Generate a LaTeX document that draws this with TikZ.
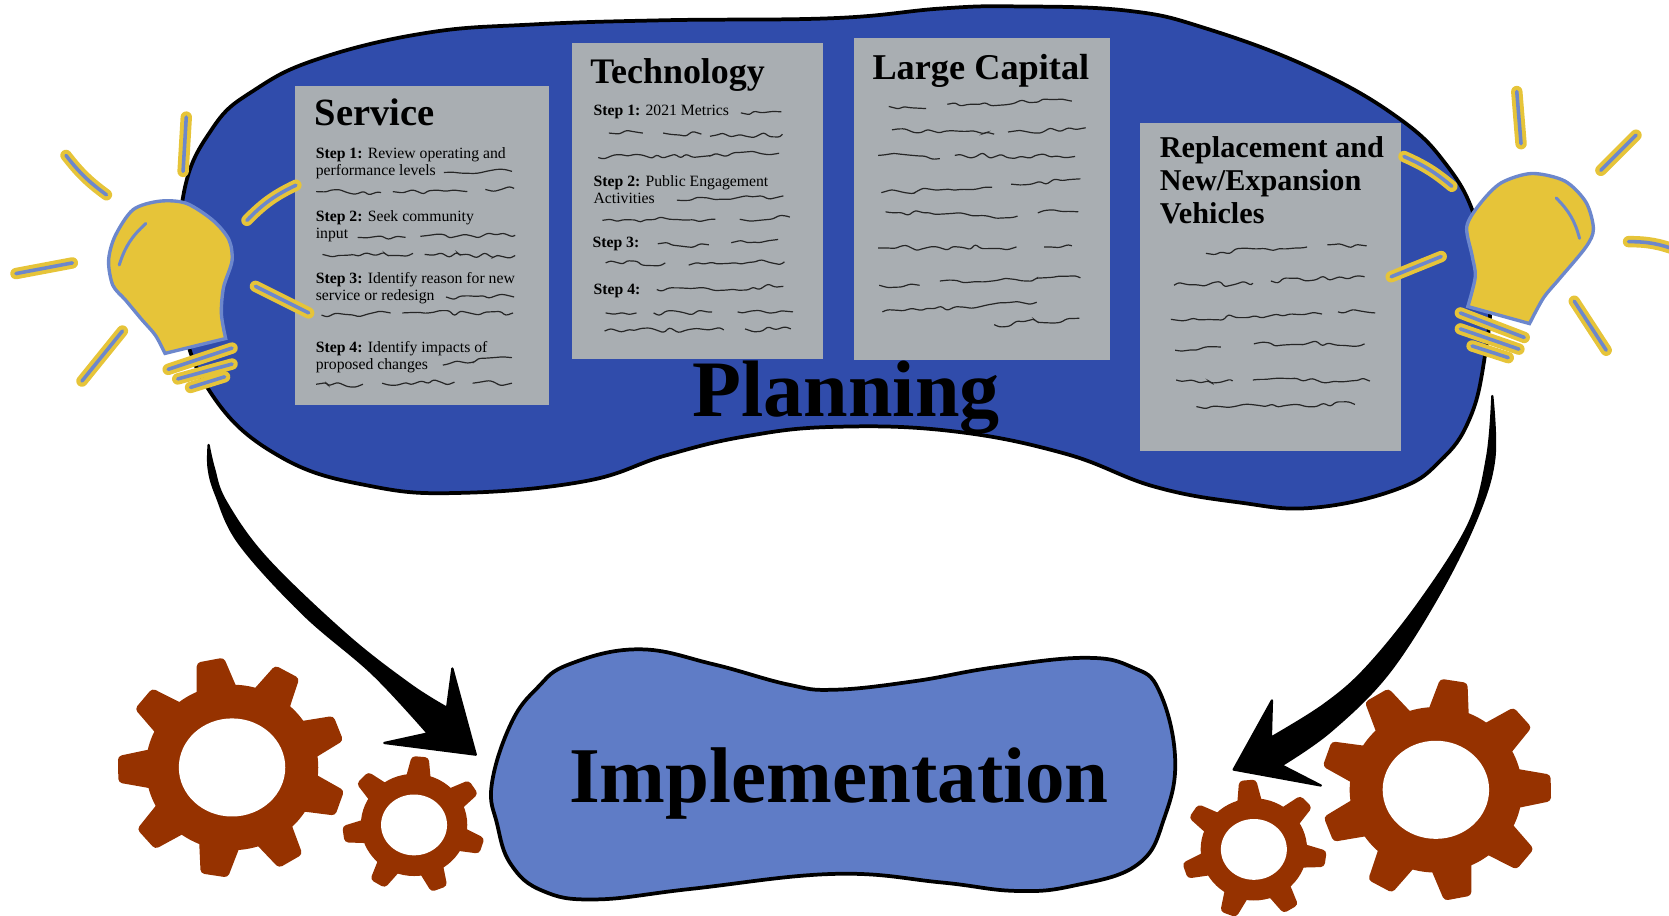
\documentclass[tikz,border=0pt]{standalone}
\usepackage{fontspec}
\setmainfont{Liberation Serif}
\usetikzlibrary{decorations.pathmorphing}

\definecolor{planblue}{HTML}{304CAB}
\definecolor{implblue}{HTML}{5F7CC6}
\definecolor{sheetgray}{HTML}{A9AEB2}
\definecolor{bulbyellow}{HTML}{E6C439}
\definecolor{bulbblue}{HTML}{6C87CC}
\definecolor{cogred}{HTML}{963200}

\tikzset{
  blob/.style={draw=black, line width=1pt},
  sheet/.style={fill=sheetgray, inner sep=0pt, anchor=north west},
  heading/.style={inner sep=0pt, anchor=base west, font=\bfseries\fontsize{#1}{#1}\selectfont},
  steptext/.style={inner sep=0pt, anchor=north west, align=left, font=\fontsize{4.2}{4.55}\selectfont},
  squiggle/.style={draw=black!85, line width=.32pt, rounded corners=.6pt, decorate,
    decoration={random steps, segment length=2pt, amplitude=.8pt}},
  ray/.style={draw=bulbyellow, double=bulbblue, double distance=.95pt, line width=1.05pt, line cap=round},
  bulb/.style={fill=bulbyellow, draw=bulbblue, line width=.9pt},
  hilite/.style={draw=bulbblue, line width=.8pt, line cap=round},
  pointer/.style={fill=black, draw=black, line width=.6pt, line join=round}
}

\newcommand{\cogwheel}[6]{
  \begin{scope}[shift={#1}, yscale=.96]
    \fill[cogred] (0,0) circle[radius=#3];
    \foreach \i in {1,...,#2}{
      \begin{scope}[rotate=#6+\i*360/#2]
        \fill[cogred, rounded corners=1pt] (#3-6,-.24*#3) -- (#4,-.16*#3) -- (#4,.16*#3) -- (#3-6,.24*#3) -- cycle;
      \end{scope}
    }
    \fill[white] (0,0) circle[x radius=#5, y radius=.96*#5];
  \end{scope}
}

\begin{document}
\begin{tikzpicture}[x=.01cm, y=-.01cm]
  \useasboundingbox (0,0) rectangle (1568,860);

  % Blobs
  \path[blob, fill=planblue] plot[smooth cycle, tension=.7] coordinates {
    (172,185) (200,120) (240,84) (300,55) (400,31) (500,23) (625,19) (784,17) (884,8) (954,6)
    (1059,10) (1134,27) (1234,65) (1314,111) (1359,155) (1386,205) (1400,270) (1394,341) (1380,395) (1354,432)
    (1314,459) (1234,477) (1164,472) (1084,457) (1000,426) (894,405) (784,401)
    (700,410) (625,428) (550,452) (435,463) (350,457) (265,430) (200,372) (170,290)};
  \path[blob, fill=implblue] plot[smooth cycle, tension=.7] coordinates {
    (462,737) (480,680) (505,646) (535,624) (600,610) (670,624) (740,643) (784,648) (859,640)
    (934,627) (1019,618) (1064,627) (1089,649) (1104,712) (1094,768) (1069,812) (1009,832) (954,837)
    (884,829) (784,821) (650,835) (560,845) (510,837) (480,812) (467,774)};

  % Sheets
  \node (service) [sheet, minimum width=2.39cm, minimum height=3cm] at (276,80) {};
  \node (technology) [sheet, minimum width=2.35cm, minimum height=2.96cm] at (537,40) {};
  \node (capital) [sheet, minimum width=2.4cm, minimum height=3.02cm] at (802,35) {};
  \node (vehicles) [sheet, minimum width=2.45cm, minimum height=3.08cm] at (1070,115) {};

  % Headings
  \node (serviceTitle) [heading=10.3] at (295,118) {Service};
  \node (technologyTitle) [heading=9.6] at (554,78) {Technology};
  \node (capitalTitle) [heading=9.7] at (819,75) {Large Capital};
  \node (vehiclesTitle) [heading=8.07, align=left, anchor=north west,
    font=\bfseries\fontsize{8.07}{8.8}\selectfont] at (1089,128) {Replacement and\\New/Expansion\\Vehicles};
  \node (planning) [heading=21.4] at (650,391) {Planning};
  \node (implementation) [heading=21.1] at (534,754) {Implementation};

  % Steps
  \node (svcOne) [steptext] at (296,138) {\textbf{Step 1:} Review operating and\\performance levels};
  \node (svcTwo) [steptext] at (296,197) {\textbf{Step 2:} Seek community\\input};
  \node (svcThree) [steptext] at (296,255) {\textbf{Step 3:} Identify reason for new\\service or redesign};
  \node (svcFour) [steptext] at (296,320) {\textbf{Step 4:} Identify impacts of\\proposed changes};
  \node (techOne) [steptext] at (557,98) {\textbf{Step 1:} 2021 Metrics};
  \node (techTwo) [steptext] at (557,164) {\textbf{Step 2:} Public Engagement\\Activities};
  \node (techThree) [steptext] at (556,222) {\textbf{Step 3:}};
  \node (techFour) [steptext] at (557,266) {\textbf{Step 4:}};

  % Squiggles
  \pgfmathsetseed{11}
  \foreach \xa/\ya/\xb/\yb in {
    417/162/481/161, 297/180/358/181, 369/180/439/180, 456/178/483/177,
    336/223/381/223, 395/222/484/221, 303/239/388/238, 399/239/484/240,
    419/279/483/279, 302/296/367/294, 378/294/482/294,
    416/343/481/336, 297/361/341/361, 359/360/427/359, 444/360/481/360,
    696/106/734/105, 572/125/604/125, 623/125/659/126, 667/128/735/126, 562/148/732/144,
    636/188/736/184, 566/207/672/206, 695/206/742/204,
    618/229/666/230, 687/228/731/225, 569/247/625/247, 647/249/737/246,
    617/272/736/269, 569/294/598/294, 614/294/669/293, 693/293/745/293,
    568/311/680/310, 700/309/743/309,
    835/100/870/102, 890/98/1007/95, 838/122/934/126, 947/124/1020/120,
    825/146/883/149, 897/146/1010/147, 828/181/932/176, 950/173/1015/168,
    832/199/956/203, 975/200/1013/199, 825/233/955/232, 981/232/1007/231,
    826/268/864/268, 883/264/1015/261, 829/293/974/284, 934/305/1014/299,
    1133/238/1228/232, 1247/230/1284/231, 1103/268/1177/266, 1194/264/1282/260,
    1100/300/1242/295, 1257/293/1292/294, 1104/329/1147/326, 1178/323/1282/323,
    1105/357/1158/358, 1177/357/1287/358, 1124/382/1273/380}
    \draw[squiggle] (\xa,\ya) -- (\xb,\yb);

  % Left bulb
  \path[bulb] plot[smooth, tension=.5] coordinates {(155,332) (146,315) (133,300) (118,282) (106,268) (102,245) (108,222)
    (125,197) (150,189) (175,191) (200,207) (215,225) (218,245) (210,270) (208,295) (212,318)} -- cycle;
  \draw[hilite] (137,210) to[bend right=15] (112,249);
  \foreach \xa/\ya/\xb/\yb in {158/347/218/327, 167/356/218/342, 179/364/211/354}
    \draw[ray] (\xa,\ya) -- (\xb,\yb);
  \foreach \xa/\ya/\xb/\yb in {175/110/172/161, 15/257/68/247, 77/358/115/311, 240/269/290/294}
    \draw[ray] (\xa,\ya) -- (\xb,\yb);
  \draw[ray] (62,146) to[bend right=8] (100,183);
  \draw[ray] (232,207) to[bend left=10] (278,174);

  % Right bulb
  \path[bulb] plot[smooth, tension=.5] coordinates {(1379,288) (1386,260) (1383,240) (1378,213) (1390,192) (1410,172)
    (1439,163) (1470,170) (1490,190) (1497,215) (1490,232) (1465,262) (1450,280) (1437,304)} -- cycle;
  \draw[hilite] (1462,186) to[bend left=15] (1484,224);
  \foreach \xa/\ya/\xb/\yb in {1372/294/1432/317, 1372/309/1427/328, 1383/325/1417/336}
    \draw[ray] (\xa,\ya) -- (\xb,\yb);
  \foreach \xa/\ya/\xb/\yb in {1425/86/1429/135, 1537/127/1504/160, 1479/283/1509/329, 1354/241/1307/260}
    \draw[ray] (\xa,\ya) -- (\xb,\yb);
  \draw[ray] (1530,227) to[bend left=10] (1575,235);
  \draw[ray] (1319,147) to[bend left=8] (1364,175);

  % Cogs
  \cogwheel{(218,721)}{9}{81}{107}{50}{21}
  \cogwheel{(389,775)}{7}{50}{67}{31}{85}
  \cogwheel{(1349,742)}{9}{81}{108}{50}{1}
  \cogwheel{(1178,798)}{7}{50}{68}{31}{95}

  % Arrows
  \coordinate (planLeft) at (196,418);
  \coordinate (implLeft) at (447,709);
  \coordinate (planRight) at (1402,372);
  \coordinate (implRight) at (1159,723);
  \path[pointer] plot[smooth, tension=.6] coordinates {(planLeft) (201,440) (212,471) (250,524) (325,596) (385,643) (420,665)}
    -- (425,628) -- (implLeft) -- (361,698) -- (402,689)
    -- plot[smooth, tension=.6] coordinates {(402,689) (350,633) (285,577) (225,511) (203,465) (196,440) (planLeft)} -- cycle;
  \path[pointer] plot[smooth, tension=.6] coordinates {(planRight) (1404,430) (1389,483) (1354,555) (1304,633) (1250,687) (1204,719)}
    -- (1241,738) -- (implRight) -- (1195,658) -- (1194,693)
    -- plot[smooth, tension=.6] coordinates {(1194,693) (1244,662) (1284,627) (1334,565) (1380,492) (1397,430) (planRight)} -- cycle;

\end{tikzpicture}
\end{document}
